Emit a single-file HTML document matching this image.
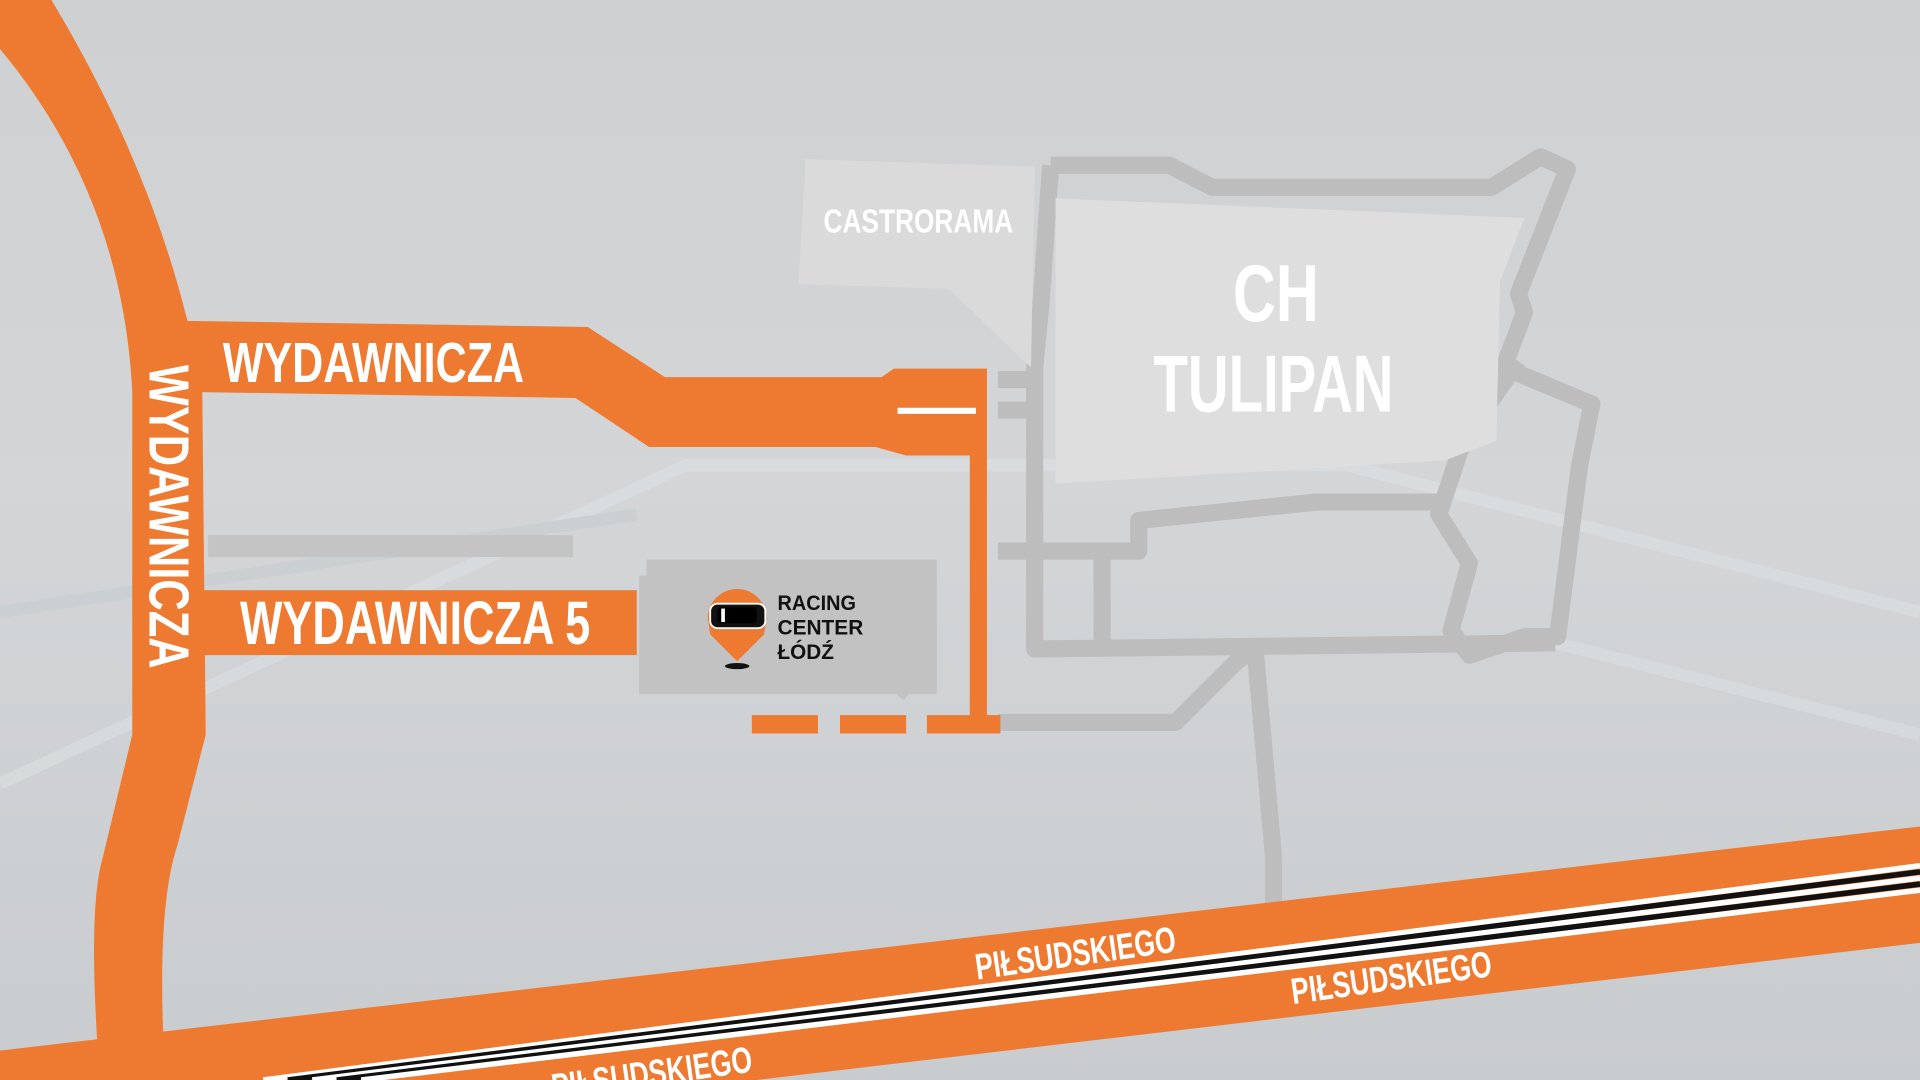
<!DOCTYPE html>
<html><head><meta charset="utf-8"><style>
html,body{margin:0;padding:0;width:1920px;height:1080px;overflow:hidden;background:#d2d4d6}
svg{display:block}
text{font-family:"Liberation Sans Narrow","Liberation Sans",sans-serif;font-weight:bold}
</style></head><body>
<svg width="1920" height="1080" viewBox="0 0 1568 882" xmlns="http://www.w3.org/2000/svg">
<defs>
<linearGradient id="bg" x1="0" y1="0" x2="0" y2="1">
<stop offset="0" stop-color="#cfd0d2"/><stop offset="0.45" stop-color="#d3d5d7"/><stop offset="1" stop-color="#c9cccf"/>
</linearGradient>
</defs>
<rect width="1568" height="882" fill="url(#bg)"/>
<g opacity="0.3" fill="none" stroke-width="10">
<path d="M0 640 L560 380 L1100 380 L1568 500" stroke="#e8eef0"/>
<path d="M0 500 L520 420" stroke="#b8c8cc"/>
<path d="M1250 520 L1568 600" stroke="#e8eef0"/>
</g>
<g fill="none" stroke="#bdbdbd" stroke-width="14" stroke-linejoin="round">
<path d="M858 135 L955 135 L990 153 L1218 153 L1258 128 L1280 138 L1240 240 L1245 255 L1228 300 L1300 330 L1290 380 L1272 520 L1245 520 L1200 535 L1185 515 L1200 460 L1175 420 L1195 360 L1240 295"/>
<path d="M858 135 L850 250 L845 300 L845 530 L1270 525"/>
<path d="M815 450 L930 450 L930 425 L1075 410 L1180 410"/>
<path d="M900 455 L900 525"/>
<path d="M815 590 L960 590 L1010 540 L1025 530 L1040 700 L1040 740"/>
<path d="M815 310 L845 310 M815 335 L845 335"/>
</g>
<path d="M658 130 L845 136 L842 300 L775 236 L652 232 Z" fill="#dadada"/>
<text x="750" y="190" fill="#fff" font-size="27" text-anchor="middle" textLength="155" lengthAdjust="spacingAndGlyphs">CASTRORAMA</text>
<path d="M862 162 L1245 178 L1225 230 L1222 360 L1180 376 L862 395 Z" fill="#dedede"/>
<text x="1042" y="262" fill="#fff" font-size="66" text-anchor="middle" textLength="70" lengthAdjust="spacingAndGlyphs">CH</text>
<text x="1040" y="336" fill="#fff" font-size="66" text-anchor="middle" textLength="196" lengthAdjust="spacingAndGlyphs">TULIPAN</text>
<rect x="170" y="437" width="298" height="18" fill="#c4c4c4"/>
<path d="M528 457 L765 457 L765 567 L742 567 L738 572 L732 567 L522 567 L522 470 L528 470 Z" fill="#c2c2c2"/>
<path d="M578 505 A23 23 0 0 1 626 505 L624 518 L602 540 L580 518 Z" fill="#ed7a30"/>
<rect x="580" y="493" width="45" height="20" rx="6" fill="#111" stroke="#fff" stroke-width="1.5"/>
<rect x="586" y="496" width="32" height="13" rx="3" fill="#000"/>
<rect x="589" y="497" width="3" height="11" fill="#fff"/>
<ellipse cx="602" cy="544" rx="10" ry="2.5" fill="#111"/>
<text x="635" y="498" fill="#111" font-size="17" textLength="64" lengthAdjust="spacingAndGlyphs">RACING</text>
<text x="635" y="518" fill="#111" font-size="17" textLength="70" lengthAdjust="spacingAndGlyphs">CENTER</text>
<text x="635" y="538" fill="#111" font-size="17" textLength="46" lengthAdjust="spacingAndGlyphs">ŁÓDŹ</text>
<g fill="#ed7a30">
<path d="M0 40 L0 0 L42 0 Q120 130 152 258 L165 300 L168 600 L145 690 Q128 740 134 860 L80 860 Q72 740 84 700 L108 600 L108 320 Q100 160 0 40 Z"/>
<path d="M150 262 L480 267 L543 308 L720 308 L730 301 L806 301 L806 598 L792 598 L792 372 L740 372 L715 365 L530 365 L470 325 L150 320 Z"/>
<rect x="160" y="482" width="360" height="53"/>
<rect x="614" y="584" width="54" height="15"/>
<rect x="686" y="584" width="54" height="15"/>
<rect x="757" y="584" width="60" height="15"/>
<path d="M0 858 L1568 675 L1568 770 L618 882 L0 882 Z"/>
</g>
<rect x="733" y="333" width="64" height="5" fill="#fff"/>
<g stroke-width="4.5">
<path d="M215 882 L1568 707" stroke="#fff"/>
<path d="M235 882 L1568 712" stroke="#111"/>
<path d="M255 882 L1568 717" stroke="#fff"/>
<path d="M275 882 L1568 722" stroke="#111"/>
<path d="M295 882 L1568 727" stroke="#fff"/>
</g>
<text x="182" y="312" fill="#fff" font-size="46" textLength="246" lengthAdjust="spacingAndGlyphs">WYDAWNICZA</text>
<text x="196" y="526" fill="#fff" font-size="50" textLength="286" lengthAdjust="spacingAndGlyphs">WYDAWNICZA 5</text>
<text transform="translate(118 298) rotate(90)" x="0" y="0" fill="#fff" font-size="46" textLength="248" lengthAdjust="spacingAndGlyphs" dy="-4">WYDAWNICZA</text>
<text transform="translate(798 800) rotate(-8)" fill="#fff" font-size="30" textLength="165" lengthAdjust="spacingAndGlyphs">PIŁSUDSKIEGO</text>
<text transform="translate(1056 820) rotate(-8)" fill="#fff" font-size="30" textLength="165" lengthAdjust="spacingAndGlyphs">PIŁSUDSKIEGO</text>
<text transform="translate(452 898) rotate(-8)" fill="#fff" font-size="30" textLength="165" lengthAdjust="spacingAndGlyphs">PIŁSUDSKIEGO</text>
</svg>
</body></html>
